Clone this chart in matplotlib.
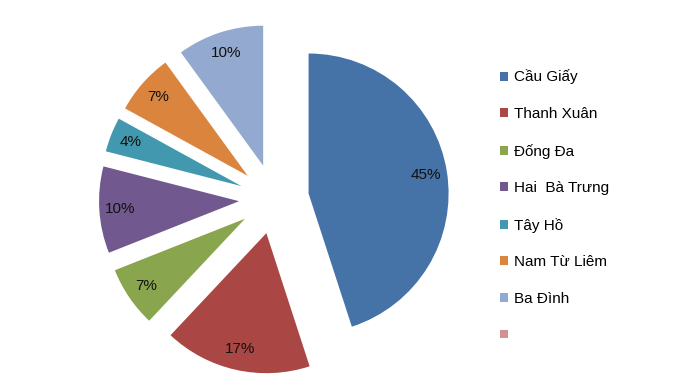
import matplotlib.pyplot as plt

districts = ['Cầu Giấy', 'Thanh Xuân', 'Đống Đa', 'Hai  Bà Trưng', 'Tây Hồ', 'Nam Từ Liêm', 'Ba Đình', '']
shares = [45, 17, 7, 10, 4, 7, 10, 0]
colors = ['#4572A7', '#AA4643', '#89A54E', '#71588F', '#4198AF', '#DB843D', '#93A9CF', '#D19392']

plt.rcParams['font.family'] = ['Liberation Sans', 'DejaVu Sans']

fig = plt.figure(figsize=(6.84, 3.86), dpi=100)
ax = fig.add_axes([0, 0, 1, 1])


def pct(v):
    return '%d%%' % round(v) if v > 0.5 else ''


wedges, texts, autotexts = ax.pie(shares, colors=colors, startangle=90, counterclock=False,
                                  explode=[0.25] * len(shares), autopct=pct, pctdistance=0.85,
                                  wedgeprops={'linewidth': 0},
                                  textprops={'fontsize': 11, 'color': '#111111'})

# pie centre at ~(274, 199) px, radius 140 px
ax.set_xlim(-274 / 140, (684 - 274) / 140)
ax.set_ylim((199 - 386) / 140, 199 / 140)
ax.set_aspect('auto')
ax.axis('off')

fig.legend(wedges, districts, loc='upper left', bbox_to_anchor=(492 / 684, 1 - 62 / 386),
           frameon=False, fontsize=11, borderpad=0, labelspacing=1.48,
           handlelength=0.52, handleheight=0.52, handletextpad=0.4)

plt.savefig('out.png')
